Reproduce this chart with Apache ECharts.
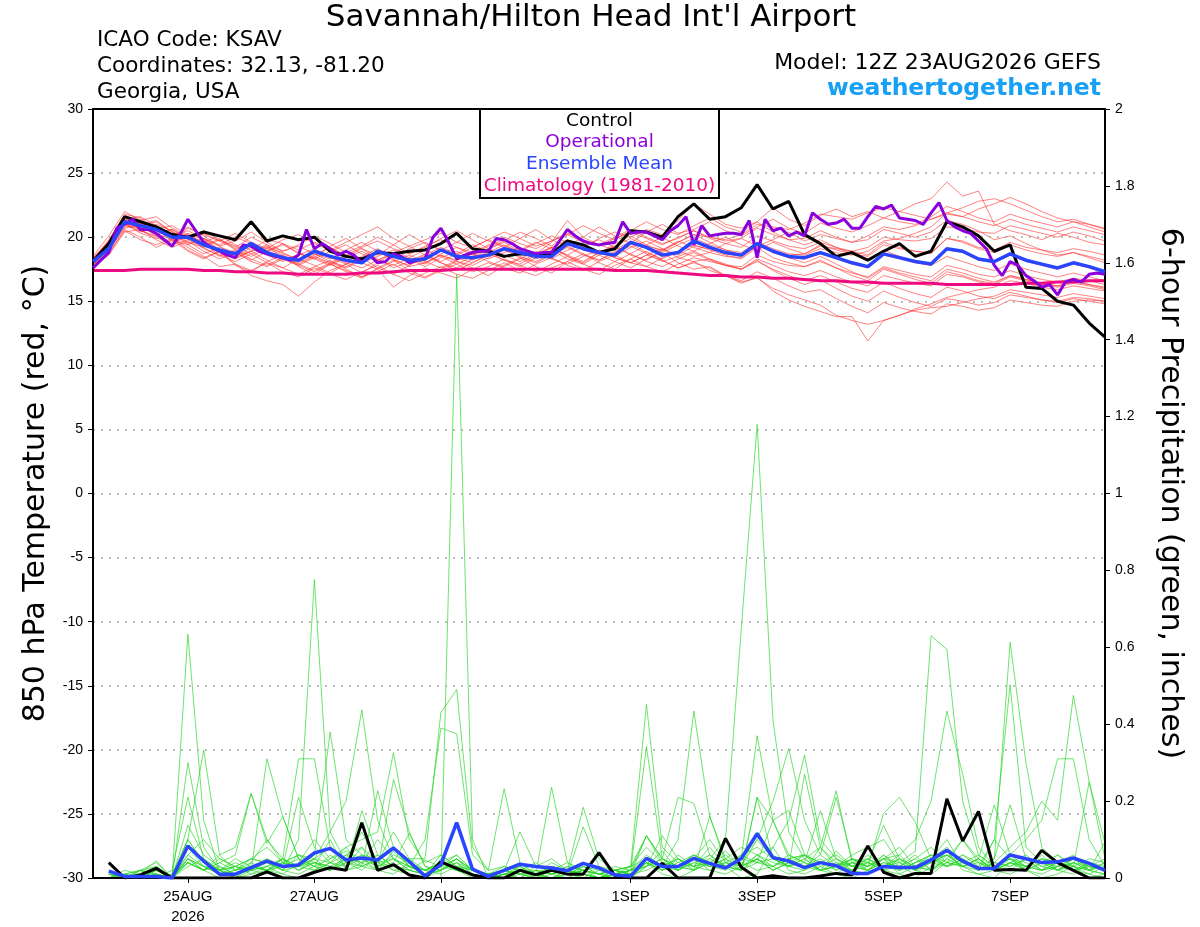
<!DOCTYPE html>
<html>
<head>
<meta charset="utf-8">
<title>KSAV GEFS 850 hPa temperature and precipitation</title>
<script src="https://cdn.jsdelivr.net/npm/echarts@6/dist/echarts.min.js"></script>
<style>
  html, body { margin: 0; padding: 0; background: #fff; }
  #grafico { width: 1200px; height: 927px; }
</style>
</head>
<body>
<div id="grafico"></div>
<script>
// forecast hours, 6-hourly ensemble and 3-hourly operational run
var hours6 = [];
for (var h = 0; h <= 384; h += 6) hours6.push(h);
var hours3 = [];
for (var h3 = 0; h3 <= 384; h3 += 3) hours3.push(h3);

var tickHours = [36, 84, 132, 204, 252, 300, 348];
var tickLabels = ['25AUG\n2026', '27AUG', '29AUG', '1SEP', '3SEP', '5SEP', '7SEP'];

// 850 hPa temperature (C)
var tempControl = [
  18.1, 19.5, 21.6, 21.2, 20.8, 20.2, 20.0, 20.4, 20.1, 19.8, 21.2, 19.7, 20.1, 19.8, 20.0, 18.9, 18.5, 18.3, 18.8, 18.7, 18.9, 19.0, 19.5,
  20.3, 19.1, 18.9, 18.5, 18.7, 18.6, 18.7, 19.7, 19.4, 18.8, 19.1, 20.5, 20.4, 20.0, 21.6, 22.6, 21.4, 21.6, 22.3, 24.1, 22.2,
  22.8, 20.2, 19.5, 18.5, 18.8, 18.2, 18.9, 19.5, 18.5, 18.9, 21.2, 20.8, 20.1, 18.9, 19.4, 16.1, 16.0, 15.0, 14.7, 13.3, 12.2
];
var tempOper = [
  17.6, 18.2, 18.8, 20.7, 21.0, 21.4, 20.6, 20.6, 20.3, 19.8,
  19.3, 20.2, 21.4, 20.5, 19.6, 19.2, 18.9, 18.6, 18.4, 19.4,
  19.3, 18.9, 18.7, 18.5, 18.4, 18.2, 18.6, 20.6, 19.1, 19.5,
  19.1, 18.6, 18.9, 18.6, 18.0, 18.6, 18.0, 18.1, 18.7, 18.5,
  18.0, 18.2, 18.3, 20.0,
  20.7, 19.6, 18.3, 18.6, 18.8, 18.9, 18.9, 19.9, 19.8, 19.5,
  19.1, 18.9, 18.7, 18.8, 18.8, 19.7, 20.6, 20.1, 19.7, 19.5,
  19.4, 19.5, 19.6, 21.2, 20.3, 20.4, 20.4, 20.1, 19.8, 20.5,
  20.9, 21.6, 19.4, 20.9, 20.1, 20.2, 20.3, 20.3, 20.2, 21.3,
  18.4, 21.4, 20.5, 20.7, 20.1, 20.4, 20.1, 21.9, 21.4, 21.0,
  21.1, 21.4, 20.7, 20.7, 21.6, 22.4, 22.2, 22.5, 21.5, 21.4,
  21.3, 21.0, 21.9, 22.7, 21.3, 20.8, 20.5, 20.3, 19.7, 19.1,
  17.8, 17.0, 18.1, 17.8, 17.0, 16.6, 16.1, 16.3, 15.5, 16.5,
  16.7, 16.5, 17.1, 17.2, 17.1
];
var tempMean = [
  18.1, 19.1, 21.2, 20.9, 20.6, 20.0, 20.0, 19.4, 19.0, 18.7, 19.5, 18.8, 18.4, 18.2, 18.9, 18.5, 18.2, 18.0, 18.9, 18.5, 18.2, 18.3, 19.0,
  18.5, 18.4, 18.6, 19.1, 18.8, 18.5, 18.5, 19.5, 19.1, 18.8, 18.6, 19.6, 19.2, 18.6, 18.8, 19.7, 19.2, 18.8, 18.6, 19.5, 18.9,
  18.5, 18.4, 18.8, 18.4, 18.0, 17.7, 18.7, 18.4, 18.1, 17.9, 19.1, 18.9, 18.3, 18.1, 18.7, 18.2, 17.9, 17.6, 18.0, 17.7, 17.3
];
var tempClim = [
  17.4, 17.4, 17.4, 17.5, 17.5, 17.5, 17.5, 17.4, 17.4, 17.3, 17.3,
  17.2, 17.2, 17.1, 17.1, 17.1, 17.1, 17.2, 17.2, 17.3, 17.4,
  17.4, 17.4, 17.5, 17.5, 17.5, 17.5, 17.5, 17.5, 17.5, 17.5,
  17.5, 17.5, 17.4, 17.4, 17.4, 17.3, 17.2, 17.1, 17.0, 17.0,
  16.9, 16.9, 16.8, 16.8, 16.7, 16.6, 16.6, 16.5, 16.5, 16.4,
  16.4, 16.4, 16.4, 16.3, 16.3, 16.3, 16.3, 16.3, 16.4, 16.4, 16.5, 16.5, 16.6, 16.6, 16.7
];
var tempMembers = [
  [18.3, 19.8, 21.8, 21.5, 20.6, 20.9, 20.2, 19.6, 20.1, 19.4, 19.0, 19.8, 19.5,
   18.7, 18.4, 19.3, 19.9, 19.1, 18.6, 19.4, 20.2, 19.5, 19.0, 19.6, 20.3, 19.7,
   19.2, 19.9, 20.6, 19.8, 19.3, 20.0, 20.8, 20.1, 19.5, 20.4, 21.0, 20.3, 20.6,
   21.2, 20.5, 20.1, 20.8, 21.4, 20.7, 20.3, 21.1, 20.7, 20.4, 20.9, 21.5, 21.2,
   21.0, 21.6, 22.4, 22.0, 21.5, 21.2, 21.8, 21.4, 21.1, 20.8, 21.2, 21.0, 20.7],
  [17.9, 18.7, 20.6, 20.0, 19.2, 19.8, 18.9, 18.3, 18.9, 17.8, 17.3, 18.1, 18.6,
   17.7, 17.1, 17.9, 17.3, 16.8, 17.6, 18.2, 17.4, 16.9, 17.5, 18.1, 17.6, 17.0,
   17.8, 18.4, 17.7, 17.2, 18.1, 18.7, 18.0, 17.5, 18.3, 18.9, 18.2, 17.6, 18.1,
   17.4, 17.0, 16.6, 17.3, 16.8, 16.2, 15.7, 15.9, 15.2, 14.6, 14.1, 14.9, 14.5,
   14.2, 14.0, 14.8, 14.6, 14.3, 14.5, 15.1, 14.9, 14.7, 14.6, 15.0, 15.1, 15.0],
  [18.0, 19.3, 21.5, 20.7, 20.9, 19.9, 19.2, 18.5, 17.7, 17.9, 17.0, 16.6, 16.3,
   15.4, 16.5, 17.4, 17.9, 17.2, 18.0, 18.8, 18.3, 17.7, 18.4, 18.9, 18.3, 19.1,
   19.6, 18.9, 18.4, 19.2, 19.8, 19.1, 18.7, 19.5, 20.1, 19.4, 18.9, 19.6, 20.2,
   19.6, 19.0, 18.6, 19.5, 19.0, 18.4, 18.0, 18.5, 17.9, 17.3, 16.8, 17.6, 17.2,
   16.9, 16.6, 17.5, 17.2, 16.8, 16.5, 17.0, 16.7, 16.4, 16.2, 16.6, 16.3, 16.0],
  [18.2, 19.4, 21.3, 21.4, 20.5, 20.0, 20.8, 20.1, 19.3, 19.7, 20.4, 19.6, 18.9,
   19.4, 20.1, 19.5, 18.8, 19.3, 20.0, 19.4, 18.7, 19.2, 19.9, 20.5, 19.8, 19.1,
   19.7, 20.4, 19.9, 19.3, 20.2, 20.9, 20.3, 19.8, 20.5, 21.2, 20.6, 20.2, 20.9,
   21.5, 20.8, 20.4, 21.2, 22.3, 21.4, 20.9, 21.7, 22.2, 21.6, 22.0, 21.5, 22.0,
   22.6, 23.0, 24.3, 23.2, 23.6, 21.0, 20.5, 20.2, 19.8, 20.3, 20.0, 19.6, 19.4],
  [17.8, 18.9, 20.8, 20.9, 21.2, 20.4, 19.5, 19.9, 19.0, 18.4, 18.9, 19.4, 18.3,
   17.8, 18.4, 17.9, 18.5, 19.1, 18.3, 17.6, 18.1, 18.7, 18.0, 17.6, 18.3, 18.9,
   18.2, 17.9, 18.6, 19.2, 18.5, 18.0, 18.8, 19.3, 18.6, 18.2, 19.0, 19.7, 19.2,
   18.8, 19.5, 19.9, 19.3, 19.8, 20.4, 19.7, 20.2, 19.9, 19.6, 20.1, 20.8, 20.6,
   20.9, 21.4, 21.8, 21.6, 22.2, 22.6, 23.1, 22.6, 22.0, 21.5, 21.2, 20.8, 20.4],
  [18.4, 19.6, 21.4, 20.5, 20.1, 19.4, 20.2, 19.5, 18.6, 18.1, 18.7, 18.0, 17.6,
   18.3, 17.8, 17.2, 17.9, 18.4, 17.6, 17.1, 17.8, 18.5, 18.0, 17.4, 18.0, 18.7,
   18.2, 17.7, 18.4, 19.0, 18.3, 17.9, 18.6, 18.1, 17.6, 18.3, 18.8, 18.0, 17.5,
   17.7, 17.0, 16.4, 16.9, 15.8, 15.1, 14.6, 14.2, 13.8, 13.8, 11.9, 13.5, 13.9,
   14.3, 14.5, 14.6, 14.9, 15.2, 15.4, 15.9, 15.7, 15.5, 15.3, 15.6, 15.4, 15.2],
  [18.1, 19.2, 21.0, 21.1, 20.4, 20.6, 19.8, 20.3, 19.7, 19.1, 19.5, 18.9, 19.4,
   18.8, 18.3, 18.9, 19.4, 18.7, 18.2, 18.8, 19.3, 18.6, 18.1, 18.7, 19.4, 18.9,
   18.4, 19.0, 19.6, 19.1, 18.6, 19.3, 19.8, 19.2, 18.7, 19.4, 20.0, 19.3, 18.9,
   19.5, 20.0, 19.4, 19.0, 19.6, 19.1, 18.7, 19.4, 19.0, 18.7, 18.5, 19.4, 19.1,
   18.9, 18.8, 19.9, 19.7, 19.2, 19.0, 19.6, 19.2, 19.0, 18.8, 19.1, 18.9, 18.6],
  [18.5, 20.1, 22.0, 21.3, 21.6, 20.7, 20.1, 19.4, 18.8, 18.3, 18.9, 18.2, 17.6,
   17.1, 17.7, 18.2, 17.5, 16.9, 17.3, 17.9, 17.2, 16.8, 17.4, 17.9, 17.3, 17.7,
   18.3, 17.8, 17.3, 17.9, 18.5, 17.9, 17.4, 18.1, 18.7, 18.1, 17.7, 18.3, 18.8,
   18.2, 17.8, 17.5, 18.3, 17.8, 17.3, 17.0, 17.4, 16.9, 16.5, 16.2, 17.0, 16.7,
   16.4, 16.2, 17.1, 16.9, 16.5, 16.3, 16.9, 16.6, 16.3, 16.1, 16.4, 16.2, 15.9],
  [18.0, 19.0, 20.9, 21.2, 20.6, 20.0, 20.7, 20.2, 19.7, 20.3, 19.6, 19.1, 19.8,
   20.2, 19.5, 19.0, 19.6, 20.2, 20.8, 19.9, 19.3, 19.8, 20.3, 19.6, 19.2, 19.8,
   20.4, 19.9, 19.3, 19.7, 20.3, 19.8, 19.4, 20.0, 20.6, 20.0, 19.5, 19.9, 20.5,
   19.9, 19.5, 19.2, 20.1, 19.7, 19.3, 19.1, 19.6, 19.2, 18.9, 18.6, 19.6, 19.2,
   18.9, 18.7, 19.9, 19.6, 19.1, 18.8, 19.4, 19.0, 18.7, 18.5, 18.8, 18.5, 18.2],
  [18.2, 19.3, 21.1, 20.3, 19.9, 20.3, 19.4, 18.7, 19.2, 18.8, 18.2, 18.9, 18.5,
   17.9, 18.5, 18.0, 17.6, 18.2, 18.9, 18.3, 17.7, 18.0, 18.6, 18.1, 17.8, 18.4,
   19.0, 18.4, 18.0, 18.6, 19.2, 18.6, 18.2, 18.8, 19.3, 18.7, 18.1, 18.5, 18.9,
   18.3, 17.9, 17.5, 18.2, 17.4, 16.8, 16.3, 16.7, 16.0, 15.4, 15.0, 15.8, 15.3,
   14.9, 14.6, 15.2, 15.0, 14.7, 14.9, 15.5, 15.3, 15.1, 15.0, 15.3, 15.2, 15.0],
  [17.9, 19.0, 20.7, 20.9, 20.1, 19.6, 20.0, 19.1, 18.6, 19.0, 19.6, 18.9, 18.2,
   18.6, 19.1, 18.4, 17.9, 18.5, 19.1, 18.5, 18.0, 18.6, 19.2, 18.7, 18.2, 18.8,
   19.4, 18.8, 18.3, 18.9, 19.6, 19.0, 18.6, 19.3, 19.9, 19.3, 19.0, 19.6, 20.2,
   20.0, 19.8, 20.2, 21.0, 20.8, 20.6, 21.1, 21.8, 21.6, 21.4, 21.9, 22.3, 22.0,
   21.7, 21.4, 21.9, 21.6, 21.2, 20.9, 21.4, 21.0, 20.7, 20.4, 20.8, 20.5, 20.2],
  [18.3, 19.5, 21.3, 20.6, 21.0, 20.5, 19.6, 19.2, 19.8, 19.3, 18.7, 19.2, 18.8,
   18.2, 18.7, 18.1, 17.7, 18.3, 18.9, 18.2, 17.8, 18.5, 19.0, 18.4, 18.0, 18.6,
   19.1, 18.5, 18.1, 18.7, 19.3, 18.7, 18.2, 18.9, 19.5, 18.8, 18.3, 18.9, 19.4,
   19.0, 18.6, 18.3, 19.2, 18.4, 18.0, 17.7, 18.2, 17.6, 17.0, 16.6, 17.5, 17.1,
   16.7, 16.4, 17.3, 17.0, 16.6, 16.4, 17.0, 16.7, 16.4, 16.2, 16.5, 16.3, 16.1],
  [18.0, 19.1, 21.0, 20.4, 20.7, 19.7, 20.3, 19.8, 19.0, 18.5, 19.2, 18.6, 18.1,
   18.7, 18.3, 17.8, 18.4, 18.9, 18.2, 17.8, 18.4, 19.0, 18.5, 17.9, 18.5, 19.1,
   18.6, 18.1, 18.7, 19.2, 18.6, 18.1, 18.8, 18.4, 18.0, 18.6, 18.2, 17.6, 18.0,
   17.6, 17.0, 16.5, 16.8, 16.0, 15.5, 15.1, 14.7, 13.9, 13.5, 13.2, 13.5, 13.9,
   14.4, 14.8, 15.3, 15.6, 15.9, 16.1, 16.6, 16.4, 16.1, 15.9, 16.2, 16.0, 15.8],
  [18.2, 19.4, 21.2, 21.0, 20.2, 20.6, 20.0, 19.3, 19.9, 19.0, 18.5, 19.1, 18.6,
   18.0, 18.6, 19.2, 18.6, 18.0, 18.5, 19.0, 18.4, 18.0, 18.7, 19.2, 18.6, 19.3,
   19.8, 19.1, 18.7, 19.6, 21.3, 20.0, 19.4, 19.0, 19.7, 19.2, 18.8, 19.4, 19.9,
   19.4, 19.0, 18.8, 19.6, 19.1, 18.7, 18.6, 19.1, 18.8, 18.6, 18.9, 19.7, 19.9,
   20.3, 20.8, 21.9, 22.3, 22.8, 23.0, 22.6, 22.1, 21.6, 21.2, 21.4, 21.0, 20.6],
  [18.1, 19.0, 21.1, 20.7, 20.3, 19.8, 19.4, 19.9, 19.3, 18.6, 18.9, 19.3, 18.7,
   18.3, 18.9, 18.5, 18.0, 17.6, 18.2, 18.7, 18.3, 17.9, 18.6, 18.2, 18.7, 18.3,
   18.8, 19.2, 18.6, 18.3, 19.0, 19.4, 18.9, 18.5, 19.2, 19.7, 19.1, 18.6, 19.3,
   19.1, 18.7, 18.5, 19.4, 18.8, 18.4, 18.3, 18.7, 18.3, 17.9, 17.6, 18.6, 18.3,
   18.0, 17.8, 19.0, 18.8, 18.2, 18.0, 18.6, 18.1, 17.8, 17.5, 17.9, 17.6, 17.2],
  [17.7, 18.6, 20.4, 20.6, 19.8, 19.2, 19.7, 18.9, 18.3, 18.8, 18.1, 17.7, 18.3,
   17.8, 17.3, 17.9, 17.4, 16.9, 17.5, 16.1, 17.0, 17.6, 17.2, 16.8, 17.5, 18.0,
   17.6, 17.2, 17.9, 18.4, 17.8, 17.4, 18.1, 18.6, 18.0, 17.7, 18.4, 18.9, 18.5,
   18.8, 18.5, 18.4, 19.3, 18.9, 18.6, 18.7, 19.3, 19.1, 18.9, 19.2, 20.0, 19.8,
   19.7, 19.9, 20.8, 20.7, 20.4, 20.3, 20.9, 20.6, 20.3, 20.0, 20.4, 20.1, 19.7],
  [18.3, 19.7, 21.6, 21.0, 21.3, 20.4, 19.9, 20.5, 19.8, 19.2, 20.0, 19.4, 18.9,
   19.3, 18.7, 18.3, 19.0, 19.6, 18.9, 18.4, 19.1, 19.6, 19.0, 18.6, 19.2, 19.8,
   19.3, 18.9, 19.5, 20.1, 19.6, 19.2, 19.9, 20.4, 20.0, 20.6, 20.2, 21.3, 22.6,
   21.8, 21.0, 20.7, 21.2, 20.4, 19.8, 19.4, 19.8, 19.2, 18.7, 18.3, 19.0, 18.5,
   18.1, 17.8, 18.5, 18.1, 17.7, 17.4, 17.9, 17.5, 17.2, 16.9, 17.2, 16.9, 16.6],
  [17.9, 18.8, 20.5, 19.8, 19.4, 19.9, 19.0, 18.4, 18.9, 17.9, 17.4, 18.0, 17.3,
   16.9, 17.6, 17.1, 16.7, 17.3, 17.8, 17.1, 16.6, 17.2, 17.7, 17.1, 16.8, 17.4,
   18.0, 17.4, 17.0, 17.6, 18.1, 17.5, 17.1, 17.8, 18.3, 17.7, 17.3, 17.9, 18.4,
   18.1, 17.8, 17.7, 18.6, 18.1, 17.8, 17.7, 18.1, 17.6, 17.2, 16.9, 17.7, 17.4,
   17.1, 16.9, 17.8, 17.5, 17.1, 16.9, 17.4, 17.0, 16.7, 16.5, 16.8, 16.6, 16.3],
  [18.4, 19.5, 21.4, 21.6, 20.9, 20.2, 20.5, 19.9, 19.4, 20.0, 19.5, 18.9, 19.5,
   19.0, 19.6, 19.1, 18.6, 19.2, 19.7, 19.1, 18.7, 19.3, 19.8, 19.2, 18.8, 19.4,
   20.0, 19.5, 19.1, 19.7, 20.2, 19.6, 19.3, 19.9, 20.4, 19.9, 19.4, 20.0, 20.5,
   20.0, 19.7, 19.9, 20.7, 20.2, 19.8, 19.9, 20.5, 20.0, 19.6, 19.8, 20.6, 20.3,
   20.0, 20.4, 21.3, 21.0, 20.5, 19.8, 20.1, 19.5, 19.0, 18.6, 18.8, 18.4, 18.0],
  [18.0, 19.2, 21.1, 20.5, 20.0, 19.4, 19.8, 19.2, 18.5, 18.9, 18.3, 17.8, 18.4,
   17.9, 17.4, 18.0, 18.6, 18.0, 17.5, 18.1, 18.6, 18.1, 17.6, 18.2, 18.7, 18.1,
   17.7, 18.3, 18.9, 18.3, 17.9, 18.5, 19.0, 18.4, 18.0, 18.6, 19.1, 18.4, 18.1,
   18.3, 17.8, 17.5, 18.1, 17.5, 17.0, 16.6, 17.0, 16.5, 16.0, 15.7, 16.5, 16.0,
   15.6, 15.3, 16.1, 15.8, 15.4, 15.2, 15.7, 15.4, 15.1, 14.9, 15.2, 15.0, 14.8]
];

// 6-hour precipitation (inches), hours 6..384
var precipControl = [
  0.04, 0, 0.008, 0.025, 0, 0, 0, 0, 0, 0, 0.016, 0, 0, 0.015, 0.027, 0.02,
  0.144, 0.02, 0.035, 0.008, 0, 0.042, 0.025, 0.008, 0, 0, 0.02, 0.008, 0.02, 0.01, 0.01, 0.066,
  0.006, 0, 0, 0.038, 0, 0, 0, 0.103, 0.028, 0, 0.006, 0, 0, 0.005, 0.012, 0.008,
  0.083, 0.015, 0, 0.012, 0.012, 0.206, 0.096, 0.173, 0.02, 0.022, 0.02, 0.072, 0.04, 0.02, 0, 0
];
var precipMean = [
  0.018, 0.004, 0.004, 0.004, 0, 0.083, 0.044, 0.01, 0.01, 0.027, 0.044, 0.03, 0.034, 0.065, 0.077, 0.047,
  0.052, 0.047, 0.078, 0.043, 0.005, 0.035, 0.144, 0.023, 0.004, 0.02, 0.036, 0.03, 0.026, 0.019, 0.038, 0.026,
  0.008, 0.005, 0.051, 0.03, 0.03, 0.051, 0.038, 0.026, 0.051, 0.115, 0.053, 0.044, 0.027, 0.04, 0.032, 0.012,
  0.012, 0.03, 0.027, 0.027, 0.047, 0.072, 0.044, 0.025, 0.025, 0.06, 0.05, 0.04, 0.042, 0.052, 0.038, 0.02
];
var precipMembers = [
  [0, 0, 0.01, 0.02, 0, 0.05, 0.02, 0, 0, 0.01, 0.03, 0.01, 0, 0.02, 0.06, 0.03,
   0.08, 0.02, 0.01, 0.04, 0, 0, 1.57, 0.1, 0, 0.01, 0.03, 0, 0, 0.02, 0, 0,
   0, 0, 0.04, 0.01, 0, 0.02, 0.06, 0.03, 0, 0.01, 0.08, 0.02, 0.01, 0.03, 0.01, 0,
   0.02, 0.05, 0.01, 0, 0.03, 0.07, 0.02, 0.01, 0, 0.04, 0.02, 0, 0.01, 0.03, 0, 0.01],
  [0, 0, 0, 0.01, 0, 0.08, 0.03, 0.01, 0.02, 0.05, 0.04, 0.02, 0.1, 0.776, 0.12, 0.04,
   0.02, 0.06, 0.03, 0.01, 0, 0.02, 0.05, 0.01, 0, 0, 0.02, 0.04, 0.01, 0, 0.02, 0.01,
   0, 0, 0.03, 0.07, 0.02, 0.05, 0.1, 0.04, 0.02, 0.06, 0.03, 0.01, 0.02, 0.08, 0.04, 0.02,
   0.01, 0.03, 0.06, 0.02, 0.01, 0.04, 0.1, 0.05, 0.02, 0.01, 0.03, 0.06, 0.02, 0.01, 0.04, 0.02],
  [0.01, 0, 0.02, 0.03, 0, 0.634, 0.15, 0.02, 0, 0.03, 0.05, 0.02, 0.01, 0.03, 0.02, 0.06,
   0.04, 0.1, 0.05, 0.02, 0.01, 0.06, 0.03, 0.01, 0, 0.02, 0.04, 0.01, 0, 0.01, 0.02, 0,
   0.01, 0.03, 0.08, 0.04, 0.02, 0.05, 0.02, 0.01, 0.03, 0.12, 0.06, 0.03, 0.05, 0.02, 0.01, 0.04,
   0.02, 0.06, 0.03, 0.01, 0.05, 0.08, 0.04, 0.02, 0.1, 0.05, 0.03, 0.02, 0.06, 0.03, 0.01, 0],
  [0, 0.01, 0, 0, 0.02, 0.21, 0.05, 0.01, 0.03, 0.02, 0.01, 0.04, 0.02, 0.05, 0.08, 0.03,
   0.05, 0.02, 0.07, 0.03, 0.01, 0.03, 0.06, 0.02, 0, 0.01, 0, 0.03, 0.05, 0.02, 0.01, 0,
   0.02, 0.01, 0.04, 0.02, 0.06, 0.03, 0.05, 0.1, 0.65, 1.18, 0.41, 0.12, 0.05, 0.08, 0.03, 0.02,
   0.04, 0.02, 0.01, 0.03, 0.02, 0.05, 0.03, 0.01, 0.02, 0.04, 0.02, 0.01, 0.03, 0.05, 0.02, 0.01],
  [0, 0, 0.01, 0, 0, 0.3, 0.08, 0.02, 0, 0.04, 0.1, 0.05, 0.02, 0.04, 0.02, 0.05,
   0.12, 0.04, 0.02, 0.01, 0, 0.05, 0.02, 0, 0.01, 0.02, 0.01, 0, 0.03, 0.01, 0, 0.02,
   0.01, 0, 0.05, 0.02, 0.04, 0.03, 0.08, 0.03, 0.02, 0.05, 0.03, 0.06, 0.04, 0.02, 0.03, 0.06,
   0.08, 0.1, 0.04, 0.07, 0.63, 0.595, 0.2, 0.06, 0.03, 0.02, 0.05, 0.02, 0.04, 0.02, 0.01, 0.03],
  [0, 0, 0, 0.01, 0, 0.137, 0.06, 0.03, 0.01, 0.02, 0.05, 0.03, 0.21, 0.08, 0.04, 0.02,
   0.03, 0.05, 0.08, 0.03, 0.01, 0.02, 0.04, 0, 0, 0.01, 0, 0.02, 0.01, 0.03, 0.02, 0.01,
   0, 0.02, 0.06, 0.03, 0.05, 0.02, 0.04, 0.07, 0.03, 0.1, 0.05, 0.03, 0.06, 0.04, 0.02, 0.05,
   0.03, 0.06, 0.02, 0.04, 0.05, 0.1, 0.03, 0.02, 0.05, 0.613, 0.3, 0.08, 0.04, 0.06, 0.02, 0.01],
  [0.01, 0, 0, 0.02, 0, 0.05, 0.02, 0.04, 0.06, 0.22, 0.09, 0.16, 0.05, 0.03, 0.1, 0.02,
   0.175, 0.06, 0.03, 0.02, 0.01, 0.04, 0.02, 0.01, 0, 0.02, 0.01, 0, 0.02, 0.04, 0.01, 0,
   0.02, 0.01, 0.11, 0.04, 0.02, 0.05, 0.03, 0.02, 0.06, 0.04, 0.15, 0.05, 0.03, 0.02, 0.07, 0.03,
   0.02, 0.05, 0.08, 0.03, 0.02, 0.06, 0.04, 0.03, 0.1, 0.503, 0.08, 0.04, 0.02, 0.05, 0.03, 0.02],
  [0, 0.01, 0.02, 0.04, 0, 0.06, 0.03, 0.02, 0.01, 0.03, 0.02, 0.01, 0.04, 0.1, 0.05, 0.08,
   0.03, 0.02, 0.256, 0.12, 0.03, 0.02, 0.05, 0.02, 0.01, 0, 0.03, 0.01, 0, 0.02, 0.01, 0,
   0.01, 0.02, 0.03, 0.05, 0.21, 0.194, 0.06, 0.03, 0.02, 0.21, 0.05, 0.03, 0.02, 0.04, 0.06, 0.03,
   0.05, 0.02, 0.03, 0.06, 0.02, 0.05, 0.1, 0.04, 0.02, 0.06, 0.1, 0.15, 0.31, 0.31, 0.1, 0.03],
  [0, 0, 0.01, 0, 0.01, 0.04, 0.02, 0.05, 0.03, 0.02, 0.04, 0.02, 0.03, 0.06, 0.38, 0.1,
   0.06, 0.03, 0.05, 0.02, 0.01, 0.03, 0.02, 0.01, 0, 0.01, 0.02, 0, 0.01, 0.02, 0.03, 0.01,
   0.02, 0.01, 0.02, 0.04, 0.03, 0.02, 0.05, 0.03, 0.04, 0.02, 0.03, 0.05, 0.06, 0.02, 0.04, 0.03,
   0.06, 0.03, 0.05, 0.02, 0.04, 0.03, 0.05, 0.02, 0.04, 0.08, 0.12, 0.2, 0.15, 0.475, 0.25, 0.09],
  [0.02, 0, 0, 0.01, 0, 0.08, 0.05, 0.02, 0, 0.02, 0.03, 0.05, 0.02, 0.04, 0.03, 0.02,
   0.04, 0.02, 0.03, 0.05, 0.02, 0.04, 0.06, 0.02, 0.01, 0.03, 0.02, 0.01, 0.02, 0.01, 0.03, 0.01,
   0.02, 0.03, 0.451, 0.08, 0.04, 0.06, 0.03, 0.05, 0.08, 0.06, 0.04, 0.03, 0.05, 0.02, 0.03, 0.04,
   0.03, 0.05, 0.06, 0.1, 0.2, 0.434, 0.27, 0.08, 0.03, 0.05, 0.02, 0.04, 0.03, 0.02, 0.04, 0.03],
  [0, 0.01, 0.02, 0, 0, 0.1, 0.04, 0.02, 0.03, 0.01, 0.02, 0.04, 0.06, 0.03, 0.05, 0.07,
   0.05, 0.03, 0.06, 0.04, 0.02, 0.01, 0.03, 0.02, 0.01, 0, 0.02, 0.01, 0, 0.01, 0.02, 0.01,
   0.03, 0.02, 0.342, 0.05, 0.03, 0.06, 0.04, 0.03, 0.05, 0.1, 0.2, 0.337, 0.15, 0.06, 0.03, 0.05,
   0.04, 0.03, 0.05, 0.02, 0.04, 0.06, 0.03, 0.05, 0.02, 0.04, 0.06, 0.03, 0.02, 0.04, 0.02, 0.03],
  [0, 0, 0, 0.02, 0, 0.05, 0.03, 0.01, 0.02, 0.04, 0.02, 0.03, 0.05, 0.02, 0.04, 0.06,
   0.08, 0.04, 0.05, 0.03, 0.01, 0.02, 0.04, 0.01, 0, 0.01, 0.02, 0.01, 0.03, 0.02, 0.01, 0,
   0.01, 0.02, 0.05, 0.03, 0.1, 0.434, 0.16, 0.05, 0.03, 0.06, 0.08, 0.15, 0.32, 0.1, 0.05, 0.03,
   0.02, 0.04, 0.03, 0.05, 0.08, 0.04, 0.03, 0.05, 0.02, 0.04, 0.03, 0.05, 0.04, 0.02, 0.03, 0.05],
  [0.01, 0, 0.01, 0.03, 0, 0.1, 0.04, 0.02, 0.05, 0.03, 0.02, 0.05, 0.03, 0.02, 0.04, 0.03,
   0.06, 0.04, 0.12, 0.05, 0.05, 0.43, 0.49, 0.08, 0.02, 0.03, 0.02, 0.01, 0.04, 0.02, 0.184, 0.05,
   0.02, 0.01, 0.04, 0.02, 0.05, 0.03, 0.02, 0.04, 0.03, 0.05, 0.02, 0.04, 0.06, 0.03, 0.05, 0.02,
   0.03, 0.168, 0.21, 0.145, 0.05, 0.06, 0.03, 0.04, 0.02, 0.05, 0.03, 0.02, 0.04, 0.03, 0.02, 0.04],
  [0, 0, 0.02, 0.01, 0, 0.04, 0.02, 0.03, 0.01, 0.02, 0.31, 0.16, 0.05, 0.03, 0.02, 0.04,
   0.03, 0.05, 0.02, 0.03, 0.1, 0.39, 0.375, 0.06, 0.02, 0.232, 0.04, 0.01, 0.02, 0.01, 0.03, 0.02,
   0.01, 0.02, 0.03, 0.05, 0.02, 0.04, 0.06, 0.03, 0.02, 0.04, 0.05, 0.03, 0.27, 0.08, 0.227, 0.04,
   0.05, 0.03, 0.04, 0.02, 0.05, 0.03, 0.06, 0.04, 0.03, 0.05, 0.02, 0.04, 0.06, 0.03, 0.02, 0.04],
  [0, 0.01, 0, 0.02, 0, 0.06, 0.1, 0.05, 0.03, 0.05, 0.08, 0.04, 0.06, 0.05, 0.12, 0.2,
   0.437, 0.15, 0.05, 0.03, 0.02, 0.04, 0.02, 0.01, 0, 0.02, 0.03, 0.01, 0.236, 0.04, 0.02, 0.01,
   0.02, 0.01, 0.04, 0.03, 0.05, 0.02, 0.161, 0.04, 0.03, 0.05, 0.02, 0.04, 0.03, 0.05, 0.02, 0.04,
   0.03, 0.05, 0.02, 0.04, 0.06, 0.03, 0.05, 0.02, 0.04, 0.03, 0.05, 0.02, 0.03, 0.04, 0.02, 0.094],
  [0.01, 0, 0.01, 0.045, 0, 0.04, 0.02, 0.04, 0.02, 0.03, 0.02, 0.04, 0.03, 0.05, 0.04, 0.08,
   0.1, 0.12, 0.326, 0.1, 0.04, 0.06, 0.03, 0.02, 0.01, 0.02, 0.12, 0.03, 0.02, 0.01, 0.133, 0.03,
   0.01, 0.02, 0.11, 0.05, 0.03, 0.06, 0.04, 0.03, 0.05, 0.37, 0.15, 0.06, 0.04, 0.175, 0.05, 0.03,
   0.04, 0.137, 0.05, 0.03, 0.06, 0.04, 0.03, 0.05, 0.19, 0.06, 0.03, 0.05, 0.04, 0.03, 0.05, 0.04],
  [0, 0, 0.01, 0, 0.01, 0.1, 0.333, 0.06, 0.02, 0.03, 0.02, 0.05, 0.03, 0.04, 0.02, 0.05,
   0.03, 0.227, 0.08, 0.04, 0.02, 0.03, 0.05, 0.02, 0.01, 0, 0.01, 0.02, 0.01, 0.03, 0.02, 0.01,
   0.02, 0.03, 0.05, 0.03, 0.02, 0.04, 0.03, 0.05, 0.02, 0.21, 0.15, 0.176, 0.06, 0.04, 0.03, 0.05,
   0.02, 0.04, 0.03, 0.05, 0.02, 0.04, 0.06, 0.03, 0.05, 0.19, 0.05, 0.03, 0.04, 0.02, 0.03, 0.02],
  [0.01, 0, 0, 0.01, 0, 0.05, 0.03, 0.02, 0.04, 0.02, 0.03, 0.05, 0.31, 0.31, 0.08, 0.04,
   0.06, 0.05, 0.08, 0.03, 0.02, 0.04, 0.02, 0.01, 0, 0.02, 0.01, 0, 0.02, 0.01, 0.02, 0.03,
   0.02, 0.01, 0.03, 0.11, 0.05, 0.03, 0.04, 0.06, 0.03, 0.05, 0.02, 0.04, 0.03, 0.06, 0.21, 0.05,
   0.03, 0.05, 0.04, 0.02, 0.05, 0.03, 0.04, 0.06, 0.03, 0.05, 0.04, 0.02, 0.03, 0.05, 0.03, 0.02],
  [0, 0.02, 0.01, 0.03, 0, 0.04, 0.02, 0.06, 0.08, 0.22, 0.1, 0.04, 0.03, 0.05, 0.02, 0.04,
   0.05, 0.03, 0.04, 0.116, 0.03, 0.02, 0.04, 0.02, 0, 0.01, 0.02, 0.01, 0.03, 0.02, 0.01, 0,
   0.01, 0.02, 0.04, 0.02, 0.03, 0.05, 0.03, 0.04, 0.06, 0.08, 0.05, 0.03, 0.04, 0.02, 0.03, 0.05,
   0.04, 0.02, 0.05, 0.03, 0.04, 0.06, 0.03, 0.05, 0.02, 0.04, 0.03, 0.05, 0.02, 0.04, 0.03, 0.02],
  [0.02, 0, 0.02, 0.01, 0, 0.03, 0.05, 0.02, 0.03, 0.05, 0.04, 0.02, 0.06, 0.04, 0.03, 0.05,
   0.04, 0.06, 0.03, 0.02, 0.046, 0.03, 0.05, 0.02, 0.01, 0.02, 0.01, 0.02, 0.01, 0.02, 0.01, 0,
   0.02, 0.03, 0.11, 0.05, 0.03, 0.02, 0.04, 0.03, 0.05, 0.04, 0.03, 0.05, 0.06, 0.04, 0.03, 0.02,
   0.05, 0.03, 0.02, 0.04, 0.06, 0.03, 0.05, 0.02, 0.04, 0.03, 0.05, 0.04, 0.02, 0.03, 0.25, 0.05]
];

var FONT = 'Liberation Sans, Arial, Helvetica, sans-serif';
var WIDE = 'DejaVu Sans, Verdana, sans-serif';

function zip(xs, ys) {
  return ys.map(function (v, k) { return [xs[k], v]; });
}

var precipHours = hours6.slice(1);

var series = [];
tempMembers.forEach(function (m, k) {
  series.push({
    name: 'member ' + (k + 1), type: 'line', yAxisIndex: 0,
    data: zip(hours6, m), symbol: 'none', silent: true, z: 2,
    lineStyle: { color: 'rgba(255,45,45,0.75)', width: 0.8 }
  });
});
precipMembers.forEach(function (m, k) {
  series.push({
    name: 'precip member ' + (k + 1), type: 'line', yAxisIndex: 1,
    data: zip(precipHours, m), symbol: 'none', silent: true, z: 3,
    lineStyle: { color: 'rgba(40,215,40,0.85)', width: 0.8 }
  });
});
series.push(
  { name: 'Climatology (1981-2010)', type: 'line', yAxisIndex: 0, data: zip(hours6, tempClim),
    symbol: 'none', silent: true, z: 4, lineStyle: { color: '#ee0a80', width: 3 } },
  { name: 'Control', type: 'line', yAxisIndex: 0, data: zip(hours6, tempControl),
    symbol: 'none', silent: true, z: 5, lineStyle: { color: '#000', width: 3 } },
  { name: 'Operational', type: 'line', yAxisIndex: 0, data: zip(hours3, tempOper),
    symbol: 'none', silent: true, z: 6, lineStyle: { color: '#8a00dc', width: 3 } },
  { name: 'Ensemble Mean', type: 'line', yAxisIndex: 0, data: zip(hours6, tempMean),
    symbol: 'none', silent: true, z: 7, lineStyle: { color: '#2a45ff', width: 3.5 } },
  { name: 'Control precip', type: 'line', yAxisIndex: 1, data: zip(precipHours, precipControl),
    symbol: 'none', silent: true, z: 5, lineStyle: { color: '#000', width: 3 } },
  { name: 'Mean precip', type: 'line', yAxisIndex: 1, data: zip(precipHours, precipMean),
    symbol: 'none', silent: true, z: 7, lineStyle: { color: '#2a45ff', width: 3.5 } }
);

function headerText(x, y, text, font, color, align) {
  return { type: 'text', x: x, y: y, z: 100,
    style: { text: text, font: font, fill: color, textAlign: align, textVerticalAlign: 'middle' } };
}

var myChart = echarts.init(document.getElementById('grafico'), null, { renderer: 'canvas' });

option = {
  backgroundColor: '#fff',
  animation: false,
  textStyle: { fontFamily: FONT },
  grid: { left: 93, right: 95, top: 109, bottom: 44, show: false },
  xAxis: [
    {
      type: 'value', min: 0, max: 384, position: 'bottom', z: 5,
      axisLine: { show: true, onZero: false, lineStyle: { color: '#000', width: 2 } },
      axisTick: { show: true, customValues: tickHours, length: 5, lineStyle: { color: '#000' } },
      axisLabel: {
        customValues: tickHours, margin: 9, color: '#000', fontSize: 15, lineHeight: 20, fontFamily: FONT,
        formatter: function (v) {
          var k = tickHours.indexOf(v);
          return k >= 0 ? tickLabels[k] : '';
        }
      },
      splitLine: { show: false }
    },
    {
      type: 'value', min: 0, max: 384, position: 'top', z: 5,
      axisLine: { show: true, onZero: false, lineStyle: { color: '#000', width: 2 } },
      axisTick: { show: false }, axisLabel: { show: false }, splitLine: { show: false }
    }
  ],
  yAxis: [
    {
      type: 'value', min: -30, max: 30, interval: 5, position: 'left', z: 5,
      name: '850 hPa Temperature (red, \u00B0C)', nameLocation: 'middle', nameGap: 42, nameRotate: 90,
      nameTextStyle: { fontSize: 30, color: '#000', fontFamily: WIDE },
      axisLine: { show: true, onZero: false, lineStyle: { color: '#000', width: 2 } },
      axisTick: { show: true, length: 5, lineStyle: { color: '#000' } },
      axisLabel: { color: '#000', fontSize: 14, margin: 10, fontFamily: FONT },
      splitLine: { show: true, showMinLine: false, showMaxLine: false,
        lineStyle: { color: '#a8a8a8', width: 1.5, type: [2, 6] } }
    },
    {
      type: 'value', min: 0, max: 2, interval: 0.2, position: 'right', z: 5,
      name: '6-hour Precipitation (green, inches)', nameLocation: 'middle', nameGap: 50, nameRotate: -90,
      nameTextStyle: { fontSize: 30, color: '#000', fontFamily: WIDE },
      axisLine: { show: true, onZero: false, lineStyle: { color: '#000', width: 2 } },
      axisTick: { show: true, length: 5, lineStyle: { color: '#000' } },
      axisLabel: { color: '#000', fontSize: 14, margin: 10, fontFamily: FONT },
      splitLine: { show: false }
    }
  ],
  graphic: [
    headerText(591, 18, "Savannah/Hilton Head Int'l Airport", '31px ' + WIDE, '#000', 'center'),
    headerText(97, 40, 'ICAO Code: KSAV', '21.5px ' + WIDE, '#000', 'left'),
    headerText(97, 66, 'Coordinates: 32.13, -81.20', '21.5px ' + WIDE, '#000', 'left'),
    headerText(97, 92, 'Georgia, USA', '21.5px ' + WIDE, '#000', 'left'),
    headerText(1101, 63, 'Model: 12Z 23AUG2026 GEFS', '22px ' + WIDE, '#000', 'right'),
    headerText(1101, 89, 'weathertogether.net', 'bold 23.5px ' + WIDE, '#17a0f5', 'right'),
    { type: 'rect', z: 100, shape: { x: 480, y: 109, width: 239, height: 89 },
      style: { fill: '#fff', stroke: '#000', lineWidth: 2 } },
    headerText(599.5, 121, 'Control', '18.5px ' + WIDE, '#000', 'center'),
    headerText(599.5, 142, 'Operational', '18.5px ' + WIDE, '#8a00dc', 'center'),
    headerText(599.5, 164, 'Ensemble Mean', '18.5px ' + WIDE, '#2a45ff', 'center'),
    headerText(599.5, 186, 'Climatology (1981-2010)', '18.5px ' + WIDE, '#ee0a80', 'center')
  ],
  series: series
};

if (option && typeof option === 'object') {
  myChart.setOption(option, true);
}
</script>
</body>
</html>
